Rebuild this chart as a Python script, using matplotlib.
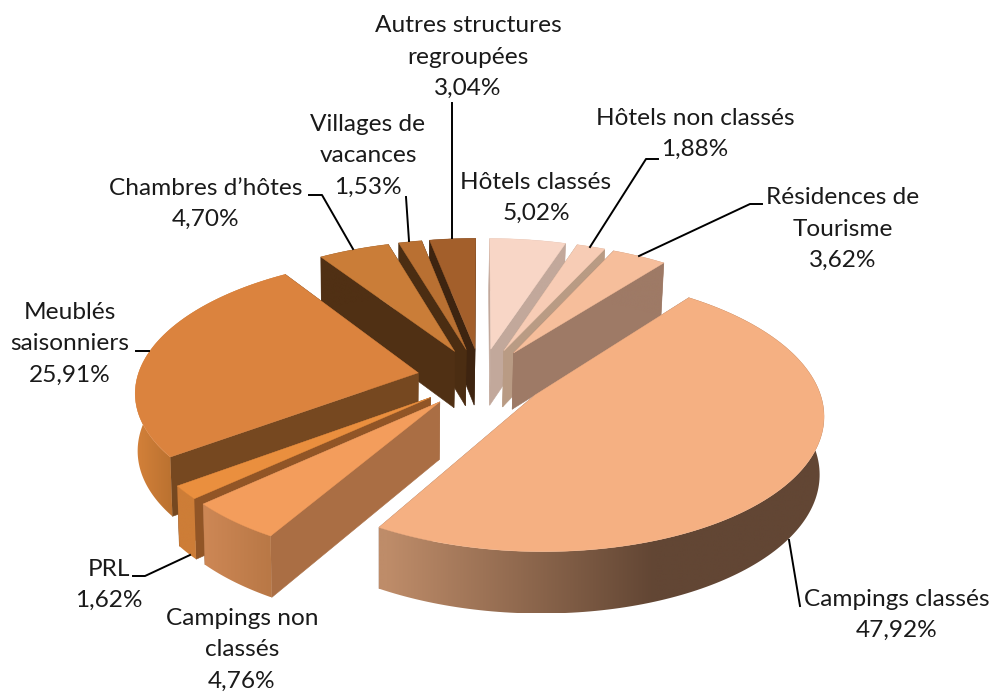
import numpy as np
import matplotlib
matplotlib.use('Agg')
import matplotlib.pyplot as plt
from matplotlib.patches import Polygon

# =========================
# data
# =========================
categories = ['Hôtels classés', 'Hôtels non classés', 'Résidences de\nTourisme',
              'Campings classés', 'Campings non\nclassés', 'PRL',
              'Meublés\nsaisonniers', 'Chambres d’hôtes', 'Villages de\nvacances',
              'Autres structures\nregroupées']
values = [5.02, 1.88, 3.62, 47.92, 4.76, 1.62, 25.91, 4.70, 1.53, 3.04]

top_colors = ['#F8D6C6', '#F7CCB5', '#F6BE9B', '#F5B082', '#F39D5C',
              '#EA8F3E', '#DB833E', '#CA7D38', '#B97032', '#A35F2B']
radial_colors = ['#C2A89B', '#B99B84', '#9E7A66', '#9E7A66', '#AA6E44',
                 '#915526', '#764820', '#503014', '#4B2D12', '#3E2410']
# outer wall gradient: (screen x stops, colours)
outer_stops = [
    ([0, 993], ['#C2A89B', '#C2A89B']),
    ([0, 993], ['#B99B84', '#B99B84']),
    ([0, 993], ['#9E7A66', '#9E7A66']),
    ([387, 653, 993], ['#BE8C69', '#624634', '#624634']),
    ([205, 270], ['#CD8755', '#B97846']),
    ([0, 993], ['#CD7D37', '#CD7D37']),
    ([135, 175], ['#D4813A', '#B8702F']),
    ([0, 993], ['#503014', '#503014']),
    ([0, 993], ['#4B2D12', '#4B2D12']),
    ([0, 993], ['#3E2410', '#3E2410']),
]

# label text positions (centre x, centre y) and value text
value_labels = ['5,02%', '1,88%', '3,62%', '47,92%', '4,76%',
                '1,62%', '25,91%', '4,70%', '1,53%', '3,04%']
label_pos = [(536, 198), (695, 134), (843, 229), (897, 615), (242, 650),
             (109, 585), (70, 344), (206, 204), (368, 156), (468, 57)]
leaders = [
    None,
    [(658, 159), (646, 159), (590, 247)],
    [(762, 204), (750, 204), (639, 256)],
    [(800, 606), (789, 540)],
    None,
    [(133, 576), (145, 576), (190, 555)],
    [(136, 351), (149, 351)],
    [(309, 195), (322, 195), (353, 249)],
    [(406, 197), (409, 241)],
    [(452, 103), (452, 238)],
]

# =========================
# projection of the tilted pie
# =========================
cx, cy = 481, 378
radius = 281
flat = 131.7     # vertical radius
persp = 0.128
depth_persp = 0.07
explode = 0.228
depth = 57


def project(u, v, low=False):
    s = 1 / (1 + persp * v)
    x = radius * u * s
    y = cy - flat * v * s
    if low:
        return cx + x * 0.99 - 1, y + depth / (1 + depth_persp * v)
    return cx + x, y


def hex_rgb(c):
    return np.array(matplotlib.colors.to_rgb(c))


fig = plt.figure(figsize=(9.93, 6.96), dpi=100)
ax = fig.add_axes([0, 0, 1, 1])
ax.axis('off')

edges = np.cumsum([0] + values) / sum(values) * 2 * np.pi


def draw_slice(i, z):
    mid = (edges[i] + edges[i + 1]) / 2
    ou, ov = explode * np.sin(mid), explode * np.cos(mid)
    th = np.linspace(edges[i], edges[i + 1], 160)
    au, av = ou + np.sin(th), ov + np.cos(th)

    # radial walls, far one first
    walls = [(au[0], av[0]), (au[-1], av[-1])]
    walls.sort(key=lambda p: -p[1])
    for pu, pv in walls:
        pts = [project(ou, ov), project(pu, pv), project(pu, pv, True), project(ou, ov, True)]
        ax.fill(*zip(*pts), color=radial_colors[i], lw=0.4, zorder=z)

    # outer wall: gradient image clipped to the wall shape
    upper = [project(a, b) for a, b in zip(au, av)]
    lower = [project(a, b, True) for a, b in zip(au, av)]
    shape = np.array(upper + lower[::-1])
    xs, cols = outer_stops[i]
    rgb = np.array([hex_rgb(c) for c in cols])
    x0, x1 = shape[:, 0].min(), shape[:, 0].max()
    grid = np.linspace(x0, x1, 300)
    img = np.stack([np.interp(grid, xs, rgb[:, c]) for c in range(3)], axis=-1)[None, :, :]
    im = ax.imshow(img, extent=(x0, x1, shape[:, 1].max(), shape[:, 1].min()),
                   aspect='auto', interpolation='bilinear', zorder=z + 0.1)
    im.set_clip_path(Polygon(shape, transform=ax.transData))

    # top face
    top = [project(ou, ov)] + upper
    ax.fill(*zip(*top), color=top_colors[i], lw=0.3, zorder=z + 0.5)


# back slices first, the big front ones last
draw_seq = [9, 8, 7, 0, 1, 2, 6, 5, 4, 3]
for n, i in enumerate(draw_seq):
    draw_slice(i, n + 1)

ax.set_xlim(0, 993)
ax.set_ylim(696, 0)

# =========================
# labels
# =========================
plt.rcParams['font.family'] = ['Lato', 'DejaVu Sans']
for i, name in enumerate(categories):
    x, y = label_pos[i]
    ax.text(x, y, name + '\n' + value_labels[i], ha='center', va='center',
            fontsize=17.6, linespacing=1.62, color='#1a1a1a', zorder=30)
    if leaders[i] is not None:
        ax.plot(*zip(*leaders[i]), color='black', lw=1.4, zorder=20)

fig.savefig('out.png', dpi=100)
